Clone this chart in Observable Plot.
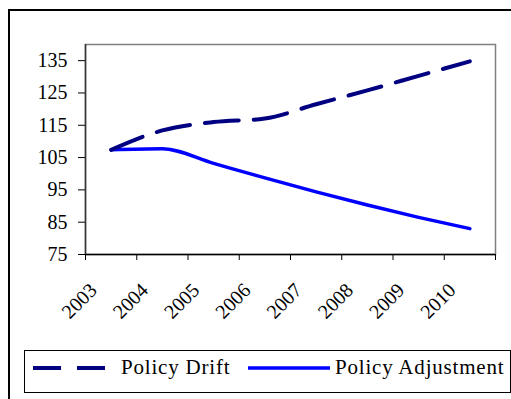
<!DOCTYPE html>
<html>
<head>
<meta charset="utf-8">
<script src="https://cdn.jsdelivr.net/npm/d3@7"></script>
<script src="https://cdn.jsdelivr.net/npm/@observablehq/plot@0.6"></script>
<style>
  html, body { margin: 0; padding: 0; background: #fff; }
  body { width: 511px; height: 399px; position: relative; overflow: hidden; font-family: "Liberation Serif", "Times New Roman", serif; }
  #frame { position: absolute; left: 8px; top: 9px; width: 700px; height: 600px; border-left: 2px solid #000; border-top: 2px solid #000; }
  #chart { position: absolute; left: 0; top: 0; }
  #legend { position: absolute; left: 24px; top: 350px; width: 485px; height: 41px; border: 1px solid #000; background: #fff; }
  #legend svg { position: absolute; left: 0; top: 0; }
</style>
</head>
<body>
<div id="frame"></div>
<div id="chart"></div>
<div id="legend"></div>
<script>
const years = ["2003", "2004", "2005", "2006", "2007", "2008", "2009", "2010"];
const policyDrift = [107.4, 113.4, 116.0, 117.1, 121.5, 125.8, 130.3, 134.8];
const policyAdjustment = [107.4, 107.7, 103.2, 98.7, 94.4, 90.3, 86.5, 83.0];
const yTicks = [75, 85, 95, 105, 115, 125, 135];
const seriesNames = ["Policy Drift", "Policy Adjustment"];

const driftData = years.map((y, i) => ({i, v: policyDrift[i]}));
const adjData = years.map((y, i) => ({i, v: policyAdjustment[i]}));
const bounds = d3.range(-0.5, years.length, 1);

const font = "Liberation Serif, Times New Roman, serif";

const plot = Plot.plot({
  width: 511,
  height: 340,
  marginLeft: 85,
  marginRight: 16,
  marginTop: 44,
  marginBottom: 86,
  style: {fontFamily: font, color: "#000", background: "transparent"},
  x: {type: "linear", domain: [-0.5, years.length - 0.5]},
  y: {domain: [75, 140]},
  marks: [
    Plot.frame({stroke: "#808080", strokeWidth: 1.5}),
    Plot.axisY({ticks: yTicks, tickSize: 7, tickPadding: 11, fontSize: 20, stroke: "#000", label: null, tickFormat: d => String(d)}),
    Plot.axisX({ticks: bounds, tickSize: 6, tickFormat: () => "", label: null, stroke: "#000"}),
    Plot.ruleX([-0.5], {stroke: "#333", strokeWidth: 1.5}),
    Plot.ruleY([75], {stroke: "#000", strokeWidth: 1.5}),
    Plot.text(years, {x: (d, i) => i, text: d => d, frameAnchor: "bottom", rotate: -45, textAnchor: "end", lineAnchor: "bottom", dx: -13, dy: 37, fontSize: 20, fill: "#000"}),
    Plot.line(adjData, {x: "i", y: "v", stroke: "#0000ff", strokeWidth: 3.5, curve: "monotone-x"}),
    Plot.line(driftData, {x: "i", y: "v", stroke: "#000080", strokeWidth: 4, strokeDasharray: "34,15", curve: "monotone-x"})
  ]
});
document.getElementById("chart").appendChild(plot);

// Legend
const lw = 486, lh = 43;
const leg = d3.select("#legend").append("svg").attr("width", lw).attr("height", lh);
leg.append("line").attr("x1", 8).attr("x2", 80).attr("y1", 17).attr("y2", 17)
  .attr("stroke", "#000080").attr("stroke-width", 4).attr("stroke-dasharray", "28,16");
leg.append("text").attr("x", 96).attr("y", 23).attr("font-family", font).attr("font-size", 21)
  .attr("letter-spacing", "0.8px").text(seriesNames[0]);
leg.append("line").attr("x1", 223).attr("x2", 305).attr("y1", 17).attr("y2", 17)
  .attr("stroke", "#0000ff").attr("stroke-width", 3.5);
leg.append("text").attr("x", 310).attr("y", 23).attr("font-family", font).attr("font-size", 21)
  .attr("letter-spacing", "0.8px").text(seriesNames[1]);
</script>
</body>
</html>
